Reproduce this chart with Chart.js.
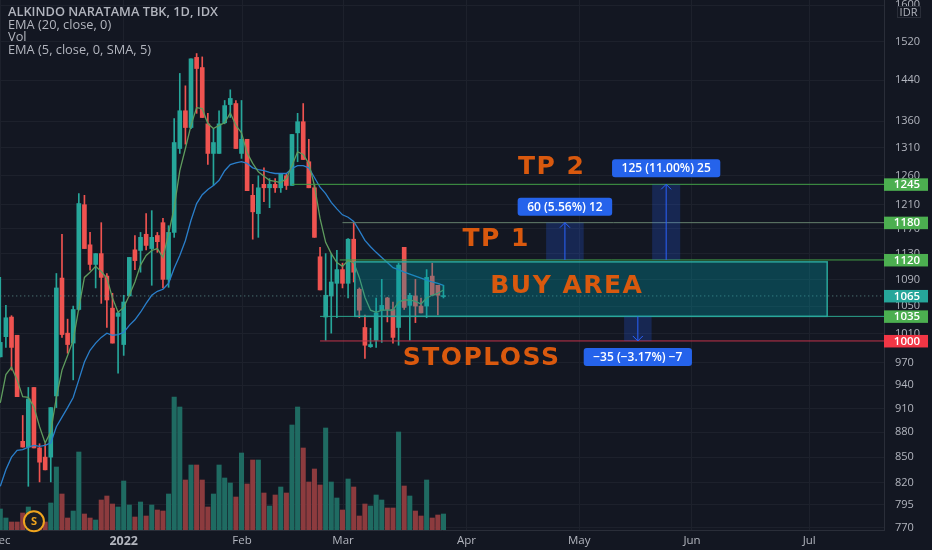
<!DOCTYPE html>
<html lang="en">
<head>
    <meta charset="UTF-8">
    <title>ALKINDO NARATAMA TBK, 1D, IDX</title>
    <script src="https://cdn.jsdelivr.net/npm/chart.js"></script>
    <style>
        body { margin: 0; background-color: #131722; }
        canvas { display: block; }
    </style>
</head>
<body>
    <canvas id="priceChart" width="932" height="550"></canvas>

    <script>
        // daily candles
        const opens = [978,1006,1034,1008,869,862,937,861,850,850,926,1092,1011,997,1045,1210,1144,1113,1130,1095,1047,1035,995,1065,1136,1135,1161,1138,1159,1180,1090,1164,1309,1380,1348,1487,1466,1355,1300,1300,1357,1392,1394,1300,1326,1226,1195,1245,1239,1245,1239,1260,1243,1338,1359,1285,1239,1125,1034,1065,1084,1105,1084,1153,1075,1019,992,1001,1044,1062,1045,1019,1140,1051,1065,1050,1050,1095,1081,1064];
        const highs = [1093,1051,1036,1008,901,937,937,866,866,911,1099,1161,1031,1050,1229,1226,1164,1130,1180,1099,1069,1041,1066,1124,1159,1164,1195,1200,1164,1187,1175,1365,1454,1429,1484,1495,1488,1375,1346,1380,1400,1421,1400,1400,1326,1245,1260,1274,1255,1255,1264,1264,1335,1375,1394,1326,1243,1140,1130,1130,1135,1115,1154,1180,1077,1037,1018,1062,1090,1063,1056,1115,1140,1069,1090,1062,1105,1115,1081,1081];
        const lows = [978,991,960,925,862,816,861,821,835,821,911,1005,983,947,1044,1138,1104,1077,1054,1019,997,956,980,1065,1105,1101,1136,1081,1132,1077,1078,1156,1300,1317,1346,1375,1367,1280,1243,1300,1355,1367,1309,1291,1234,1153,1156,1215,1205,1231,1231,1236,1243,1285,1289,1239,1156,1074,1001,1011,1033,1077,1062,1086,1033,976,991,991,998,1027,997,994,1045,1001,1026,1040,1033,1066,1037,1062];
        const closes = [998,1033,991,925,862,922,861,844,835,911,1077,1009,995,1045,1212,1138,1113,1130,1093,1059,997,1040,1056,1124,1119,1156,1143,1156,1149,1090,1164,1320,1380,1348,1484,1464,1367,1300,1320,1355,1390,1404,1309,1326,1234,1198,1239,1239,1245,1239,1264,1243,1335,1359,1289,1239,1156,1074,1066,1086,1105,1084,1153,1101,1044,994,995,1040,1051,1045,1005,1112,1048,1066,1050,1040,1093,1066,1066,1065];
        const volumes = [21,12,8,8,17,23,12,8,8,27,63,36,12,19,78,16,12,10,30,34,26,23,49,25,13,28,14,25,20,19,36,133,123,50,65,65,50,23,36,65,52,47,33,77,46,70,70,37,24,35,43,37,105,123,82,48,61,45,102,48,32,20,51,43,14,26,24,35,30,22,22,98,44,34,19,14,50,12,15,16];
        const ema20 = [816,835,850,858,859,862,864,863,864,867,887,899,911,924,947,971,987,997,1005,1011,1008,1009,1012,1022,1030,1041,1054,1066,1072,1075,1084,1107,1127,1151,1184,1212,1227,1236,1243,1252,1269,1280,1283,1285,1282,1274,1271,1269,1266,1264,1264,1264,1273,1278,1278,1274,1257,1240,1229,1214,1203,1193,1189,1182,1167,1151,1141,1132,1124,1116,1108,1105,1101,1098,1095,1092,1089,1086,1084,1081];
        const ema5 = [917,954,964,947,925,924,912,887,867,881,924,960,980,1001,1047,1093,1101,1110,1102,1092,1062,1041,1048,1066,1086,1112,1127,1135,1138,1124,1162,1205,1269,1309,1352,1386,1384,1355,1346,1352,1357,1376,1352,1338,1301,1282,1267,1259,1252,1250,1248,1255,1278,1303,1298,1282,1243,1187,1148,1130,1116,1110,1119,1116,1093,1063,1044,1041,1044,1044,1044,1056,1059,1059,1057,1053,1062,1066,1069,1074];

        const priceTicks = [1600,1520,1440,1360,1310,1260,1210,1170,1130,1090,1050,1010,970,940,910,880,850,820,795,770];
        const monthTicks = [0,22,43.1,61.1,83.1,103.2,123.3,144.2];
        const monthLabels = ['Dec','2022','Feb','Mar','Apr','May','Jun','Jul'];

        // drawn levels: price, first bar, colour
        const levelPrices = [1245,1180,1120,1035,1000];
        const levelStarts = [52,61,60.5,57,57];
        const levelColors = ['#43a047','#64806c','#43a047','#2ca58d','#c2334a'];
        const levelTagColors = ['#4caf50','#4caf50','#4caf50','#4caf50','#f23645'];
        const lastPrice = 1065;

        const GREEN = '#26a69a';
        const RED = '#ef5350';
        const isUp = i => closes[i] >= opens[i];
        const bars = opens.map((o, i) => i);

        // position tool boxes
        const positions = [
            { from: 1120, to: 1180, left: 97.3, right: 104, label: '60 (5.56%) 12' },
            { from: 1120, to: 1245, left: 116.2, right: 121.2, label: '125 (11.00%) 25' },
            { from: 1035, to: 1000, left: 111.2, right: 116.1, label: '\u221235 (\u22123.17%) \u22127' }
        ];
        const buyArea = { left: 63.2, right: 147.4, top: 1117, bottom: 1035 };
        const notes = [
            { text: 'TP 2', index: 98.3, price: 1278 },
            { text: 'TP 1', index: 88.4, price: 1155 },
            { text: 'BUY AREA', index: 101, price: 1082 },
            { text: 'STOPLOSS', index: 85.8, price: 978 }
        ];
        const legendLines = ['ALKINDO NARATAMA TBK, 1D, IDX', 'EMA (20, close, 0)', 'Vol', 'EMA (5, close, 0, SMA, 5)'];
        const dividendMark = { index: 6, price: 777, text: 'S' };

        // everything that is not a dataset: boxes, arrows, texts, price tags
        const overlay = {
            id: 'overlay',
            afterDatasetsDraw(chart) {
                const c = chart.ctx;
                const x = chart.scales.x;
                const y = chart.scales.y;

                // buy area
                c.save();
                const bx = x.getPixelForValue(buyArea.left);
                const bw = x.getPixelForValue(buyArea.right) - bx;
                const by = y.getPixelForValue(buyArea.top);
                const bh = y.getPixelForValue(buyArea.bottom) - by;
                c.fillStyle = 'rgba(0, 151, 167, 0.33)';
                c.fillRect(bx, by, bw, bh);
                c.strokeStyle = '#2aa79b';
                c.lineWidth = 1.5;
                c.strokeRect(bx, by, bw, bh);

                // long and short boxes
                positions.forEach(p => {
                    const l = x.getPixelForValue(p.left);
                    const r = x.getPixelForValue(p.right);
                    const a = y.getPixelForValue(p.from);
                    const b = y.getPixelForValue(p.to);
                    const mid = (l + r) / 2;
                    const dir = b < a ? 1 : -1;
                    c.fillStyle = 'rgba(41, 98, 255, 0.22)';
                    c.fillRect(l, Math.min(a, b), r - l, Math.abs(b - a));
                    c.strokeStyle = '#2962ff';
                    c.lineWidth = 1;
                    c.beginPath();
                    c.moveTo(mid, a);
                    c.lineTo(mid, b);
                    c.moveTo(mid - 5, b + 5 * dir);
                    c.lineTo(mid, b);
                    c.lineTo(mid + 5, b + 5 * dir);
                    c.stroke();

                    c.font = '600 12px "Open Sans"';
                    const w = c.measureText(p.label).width + 19;
                    const top = dir > 0 ? b - 25 : b + 7;
                    c.fillStyle = '#2563eb';
                    c.beginPath();
                    c.roundRect(mid - w / 2, top, w, 18, 3);
                    c.fill();
                    c.fillStyle = '#ffffff';
                    c.textAlign = 'center';
                    c.textBaseline = 'middle';
                    c.fillText(p.label, mid, top + 9.5);
                });

                // big orange notes
                c.font = 'bold 25px "DejaVu Sans"';
                c.letterSpacing = '1.5px';
                c.fillStyle = '#d9590e';
                c.textAlign = 'center';
                c.textBaseline = 'middle';
                notes.forEach(n => c.fillText(n.text, x.getPixelForValue(n.index), y.getPixelForValue(n.price) + 2));
                c.letterSpacing = '0px';

                // the S mark
                const sx = x.getPixelForValue(dividendMark.index);
                const sy = y.getPixelForValue(dividendMark.price);
                c.beginPath();
                c.arc(sx, sy, 10, 0, Math.PI * 2);
                c.fillStyle = '#1b1d24';
                c.fill();
                c.strokeStyle = '#f0a51e';
                c.lineWidth = 2;
                c.stroke();
                c.fillStyle = '#f0a51e';
                c.font = 'bold 11px "Open Sans"';
                c.fillText(dividendMark.text, sx, sy + 0.5);

                // legend
                c.textAlign = 'left';
                c.fillStyle = '#b2b5be';
                legendLines.forEach((t, i) => {
                    c.font = (i === 0 ? '600 ' : '') + '12.8px "Open Sans"';
                    c.fillText(t, 8, 12.8 + i * 12.4);
                });

                // price tags on the axis
                const tag = (price, color) => {
                    const py = y.getPixelForValue(price);
                    c.fillStyle = color;
                    c.fillRect(884, py - 6, 44, 12.5);
                    c.fillStyle = '#ffffff';
                    c.font = '600 11.5px "Open Sans"';
                    c.textAlign = 'center';
                    c.fillText(String(price), 907, py + 0.5);
                };
                levelPrices.forEach((p, i) => tag(p, levelTagColors[i]));
                tag(lastPrice, GREEN);

                // currency box
                c.fillStyle = '#131722';
                c.fillRect(897, 7, 23, 11);
                c.strokeStyle = '#2a2e39';
                c.lineWidth = 1;
                c.strokeRect(897.5, 6.5, 23, 11);
                c.fillStyle = '#b2b5be';
                c.font = '11px "Open Sans"';
                c.fillText('IDR', 908.5, 12.5);
                c.restore();
            }
        };

        const levelSets = levelPrices.map((p, i) => ({
            type: 'line',
            data: [{ x: levelStarts[i], y: p }, { x: 157.53, y: p }],
            borderColor: levelColors[i],
            borderWidth: 1,
            pointRadius: 0,
            order: 1
        }));

        const isYearTick = ctx => ctx.tick && ctx.tick.value === 22;

        const chart = new Chart(document.getElementById('priceChart'), {
            type: 'bar',
            plugins: [overlay],
            data: {
                datasets: [
                    // volume goes at the very back
                    {
                        data: bars.map(i => ({ x: i, y: volumes[i] })),
                        yAxisID: 'vol',
                        backgroundColor: bars.map(i => isUp(i) ? '#1f6b62' : '#8c3b3e'),
                        barThickness: 4.4,
                        grouped: false,
                        order: 6
                    },
                    // wicks
                    {
                        data: bars.map(i => ({ x: i, y: [lows[i], highs[i]] })),
                        backgroundColor: bars.map(i => isUp(i) ? GREEN : RED),
                        barThickness: 1,
                        grouped: false,
                        order: 5
                    },
                    // bodies
                    {
                        data: bars.map(i => ({ x: i, y: [opens[i], closes[i]] })),
                        backgroundColor: bars.map(i => isUp(i) ? GREEN : RED),
                        barThickness: 4,
                        minBarLength: 1,
                        grouped: false,
                        order: 4
                    },
                    {
                        type: 'line',
                        data: bars.map(i => ({ x: i, y: ema20[i] })),
                        borderColor: '#2a7fcb',
                        borderWidth: 1.3,
                        pointRadius: 0,
                        order: 3
                    },
                    {
                        type: 'line',
                        data: bars.map(i => ({ x: i, y: ema5[i] })),
                        borderColor: '#5f9c5e',
                        borderWidth: 1.3,
                        pointRadius: 0,
                        order: 2
                    },
                    // last price, dotted
                    {
                        type: 'line',
                        data: [{ x: 0, y: lastPrice }, { x: 157.53, y: lastPrice }],
                        borderColor: '#5e8f8c',
                        borderWidth: 1,
                        borderDash: [1, 3],
                        pointRadius: 0,
                        order: 1
                    },
                    ...levelSets
                ]
            },
            options: {
                responsive: false,
                animation: false,
                events: [],
                layout: { padding: 0 },
                plugins: { legend: { display: false }, tooltip: { enabled: false } },
                scales: {
                    x: {
                        type: 'linear',
                        offset: false,
                        min: -0.05,
                        max: 157.53,
                        afterBuildTicks: s => { s.ticks = monthTicks.map(v => ({ value: v })); },
                        afterFit: s => { s.height = 20; s.paddingLeft = 0; s.paddingRight = 0; },
                        grid: { color: '#1d212c', drawTicks: false, offset: false },
                        border: { color: '#2a2e39' },
                        ticks: {
                            autoSkip: false,
                            maxRotation: 0,
                            padding: 4,
                            color: '#b2b5be',
                            font: ctx => ({
                                family: 'Open Sans',
                                size: isYearTick(ctx) ? 12.5 : 11.5,
                                weight: isYearTick(ctx) ? 'bold' : 'normal'
                            }),
                            callback: v => monthLabels[monthTicks.indexOf(v)]
                        }
                    },
                    y: {
                        type: 'logarithmic',
                        position: 'right',
                        min: 767.6,
                        max: 1611.3,
                        afterBuildTicks: s => { s.ticks = priceTicks.map(v => ({ value: v })); },
                        afterFit: s => { s.width = 48; s.paddingTop = 0; s.paddingBottom = 0; },
                        grid: { color: '#1d212c', drawTicks: false },
                        border: { color: '#2a2e39' },
                        ticks: {
                            autoSkip: false,
                            padding: 11,
                            color: '#b2b5be',
                            font: { family: 'Open Sans', size: 11 },
                            callback: v => String(v)
                        }
                    },
                    vol: { type: 'linear', display: false, min: 0, max: 530 }
                }
            }
        });
    </script>
</body>
</html>
